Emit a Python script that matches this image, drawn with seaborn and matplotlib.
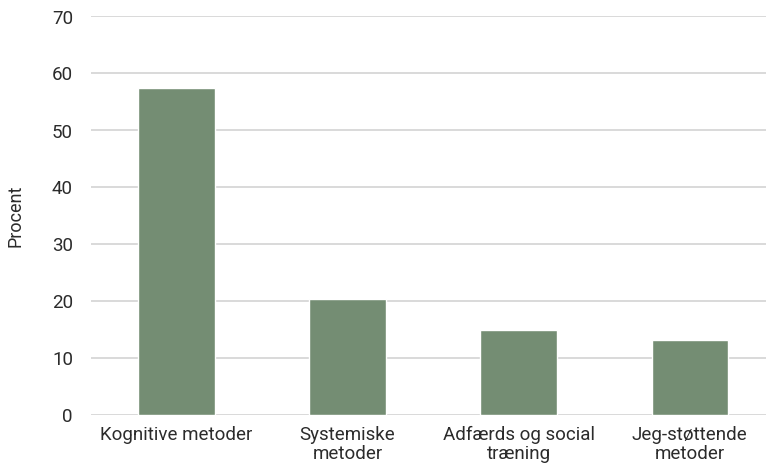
import matplotlib
matplotlib.use("Agg")
import matplotlib.pyplot as plt
import seaborn as sns
import pandas as pd

categories = ["Kognitive metoder", "Systemiske\nmetoder", "Adfærds og social\ntræning", "Jeg-støttende\nmetoder"]
values = [57.3, 20.3, 14.8, 13.0]
yticks = [0, 10, 20, 30, 40, 50, 60, 70]

sns.set_theme(style="white")
plt.rcParams["font.family"] = ["Roboto", "DejaVu Sans"]

df = pd.DataFrame({"kategori": categories, "procent": values})

fig = plt.figure(figsize=(7.66, 4.64), dpi=100)
ax = fig.add_axes([91 / 766, 48.5 / 464, 1 - 91 / 766, (415.5 - 16.5) / 464])

sns.barplot(data=df, x="kategori", y="procent", color="#748d73", saturation=1,
            width=0.445, ax=ax, zorder=3)

ax.set_ylim(0, 70)
ax.set_xlim(-0.5, 3.447)
ax.set_yticks(yticks)
ax.yaxis.grid(True, color="#d0d0d0", linewidth=1.1, zorder=0)
ax.xaxis.grid(False)
for s in ax.spines.values():
    s.set_visible(False)

ax.set_xlabel("")
ax.set_ylabel("Procent", fontsize=13, color="#2b2b2b", labelpad=20)
ax.tick_params(axis="y", length=0, pad=13, labelsize=13.5, labelcolor="#2b2b2b")
ax.tick_params(axis="x", length=0, pad=7.5, labelsize=13.5, labelcolor="#2b2b2b")
for lbl in ax.get_xticklabels():
    lbl.set_linespacing(1.08)

fig.savefig("out.png", dpi=100)
